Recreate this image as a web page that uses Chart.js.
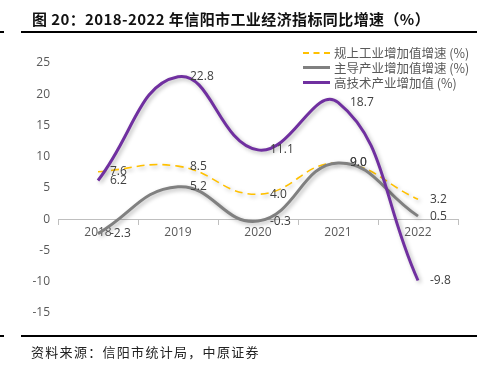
<!DOCTYPE html>
<html><head><meta charset="utf-8">
<script src="https://cdn.jsdelivr.net/npm/chart.js@4/dist/chart.umd.min.js"></script>
<style>
html,body{margin:0;padding:0;background:#fff;}
#wrap{position:relative;width:480px;height:370px;overflow:hidden;}
#c{position:absolute;left:0;top:0;}
#title{position:absolute;left:32px;top:8px;font:bold 15px "Noto Sans CJK SC","Noto Sans",sans-serif;color:#111;white-space:nowrap;line-height:22px;letter-spacing:0.4px;}
.rule{position:absolute;background:#000;}
#src{position:absolute;left:31px;top:342px;font:13px "Noto Sans CJK SC",sans-serif;color:#222;letter-spacing:1.3px;white-space:nowrap;line-height:20px;}
#legend{position:absolute;left:303px;top:45px;font:12.5px "Noto Sans CJK SC","Open Sans",sans-serif;color:#595959;}
.li{display:flex;align-items:center;height:15px;white-space:nowrap;}
.sw{width:27px;margin-right:4px;}
</style></head>
<body><div id="wrap">
<canvas id="c" width="480" height="370"></canvas>
<div id="title">图 20：2018-2022 年信阳市工业经济指标同比增速（%）</div>
<div class="rule" style="left:21px;top:31px;width:456px;height:2px;"></div>
<div class="rule" style="left:0;top:31px;width:4px;height:2px;"></div>
<div class="rule" style="left:21px;top:335px;width:456px;height:2px;"></div>
<div class="rule" style="left:0;top:335px;width:4px;height:2px;"></div>
<div id="src">资料来源：信阳市统计局，中原证券</div>
<div id="legend"></div>
</div>
<script>
const categories = ['2018','2019','2020','2021','2022'];
const seriesNames = ['规上工业增加值增速 (%)','主导产业增加值增速 (%)','高技术产业增加值 (%)'];
const industrialGrowth = [7.6, 8.5, 4.0, 9.0, 3.2];
const leadingIndustryGrowth = [-2.3, 5.2, -0.3, 9.0, 0.5];
const highTechGrowth = [6.2, 22.8, 11.1, 18.7, -9.8];
const yTicks = [-15, -10, -5, 0, 5, 10, 15, 20, 25];

const colors = ['#FFC000', '#808080', '#7030A0'];
const widths = [1.6, 3, 3];
const dashes = [[8,5], [], []];

const labelPlugin = {
  id: 'labels',
  beforeDatasetDraw(chart, args) {
    const ctx = chart.ctx;
    ctx.save();
    ctx.shadowColor = 'rgba(0,0,0,0.28)';
    ctx.shadowBlur = 4;
    ctx.shadowOffsetX = 2;
    ctx.shadowOffsetY = 2;
  },
  afterDatasetDraw(chart) { chart.ctx.restore(); },
  afterDatasetsDraw(chart) {
    const ctx = chart.ctx;
    ctx.save();
    ctx.font = '12px "Open Sans", sans-serif';
    ctx.fillStyle = '#404040';
    ctx.textAlign = 'left';
    ctx.textBaseline = 'middle';
    chart.data.datasets.forEach((ds, i) => {
      const meta = chart.getDatasetMeta(i);
      meta.data.forEach((pt, j) => {
        ctx.fillText(ds.data[j].toFixed(1), pt.x + 12, pt.y);
      });
    });
    ctx.restore();
  }
};

const series = [industrialGrowth, leadingIndustryGrowth, highTechGrowth];
new Chart(document.getElementById('c'), {
  type: 'line',
  data: {
    labels: categories,
    datasets: series.map((d, i) => ({
      label: seriesNames[i],
      data: d,
      borderColor: colors[i],
      borderWidth: widths[i],
      borderDash: dashes[i],
      pointRadius: 0,
      tension: 0.45,
      fill: false,
      order: 2 - i
    }))
  },
  options: {
    responsive: false,
    animation: false,
    layout: { padding: { left: 0, right: 22, top: 63, bottom: 57 } },
    plugins: { legend: { display: false }, tooltip: { enabled: false } },
    scales: {
      x: {
        position: { y: 0 },
        offset: true,
        grid: { display: true, drawOnChartArea: false, drawTicks: true, tickLength: 5, color: '#BFBFBF', offset: true },
        border: { display: true, color: '#BFBFBF', width: 1 },
        ticks: { color: '#595959', font: { size: 12, family: '"Open Sans", sans-serif' }, padding: 1, maxRotation: 0 }
      },
      y: {
        min: -15, max: 25,
        afterBuildTicks(scale) { scale.ticks = yTicks.map(v => ({ value: v })); },
        afterFit(scale) { scale.width = 58; },
        grid: { display: false, drawTicks: false },
        border: { display: false },
        ticks: { color: '#595959', font: { size: 12, family: '"Open Sans", sans-serif' }, padding: 8 }
      }
    }
  },
  plugins: [labelPlugin]
});

const lg = document.getElementById('legend');
seriesNames.forEach((n, i) => {
  const row = document.createElement('div');
  row.className = 'li';
  const sw = document.createElement('div');
  sw.className = 'sw';
  sw.style.borderTop = (i === 0 ? '2px dashed ' : '3px solid ') + colors[i];
  row.appendChild(sw);
  const t = document.createElement('span');
  t.textContent = n;
  row.appendChild(t);
  lg.appendChild(row);
});
</script>
</body></html>
